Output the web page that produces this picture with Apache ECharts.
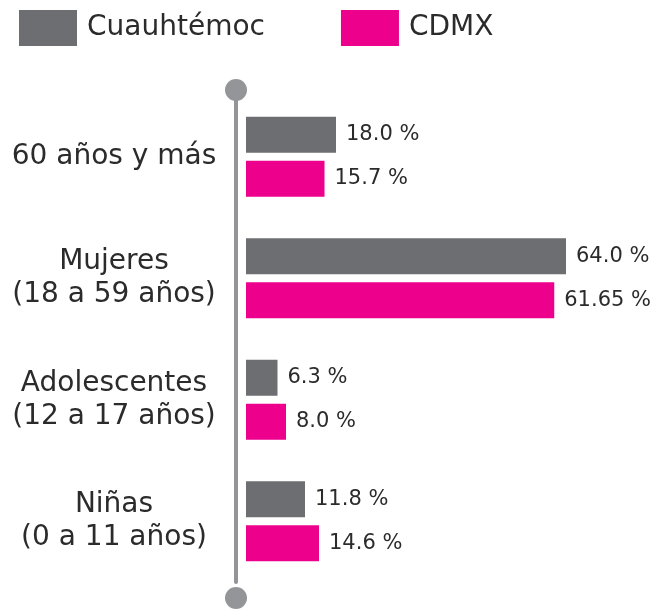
<!DOCTYPE html>
<html>
<head>
<meta charset="utf-8">
<script src="https://cdn.jsdelivr.net/npm/echarts@6/dist/echarts.min.js"></script>
<style>
  html, body { margin: 0; padding: 0; background: #fff; }
  #chart { width: 657px; height: 609px; }
</style>
</head>
<body>
<div id="chart"></div>
<script>
// Datos (de arriba hacia abajo)
const categorias = ['60 años y más', 'Mujeres\n(18 a 59 años)', 'Adolescentes\n(12 a 17 años)', 'Niñas\n(0 a 11 años)'];
const cuauhtemoc = [18.0, 64.0, 6.3, 11.8];
const cdmx = [15.7, 61.65, 8.0, 14.6];
const series = ['Cuauhtémoc', 'CDMX'];

const FONT = 'DejaVu Sans';
const TXT = '#2b2b2b';
const chart = echarts.init(document.getElementById('chart'));

function fmt(p) {
    const v = p.value;
    const d = Math.abs(v * 10 - Math.round(v * 10)) < 1e-9 ? v.toFixed(1) : String(v);
    return d + ' %';
}

const valueLabel = {
    show: true,
    position: 'right',
    distance: 10,
    formatter: fmt,
    color: TXT,
    fontFamily: FONT,
    fontSize: 21
};

chart.setOption({
    animation: false,
    legend: {
        data: series,
        left: 14,
        top: 5,
        itemWidth: 58,
        itemHeight: 36,
        itemGap: 76,
        icon: 'rect',
        textStyle: { fontFamily: FONT, fontSize: 28, color: TXT, padding: [0, 0, 0, 5] }
    },
    grid: { left: 246, top: 96, width: 400, height: 486 },
    xAxis: {
        type: 'value',
        min: 0,
        max: 80,
        show: false
    },
    yAxis: {
        type: 'category',
        data: categorias.slice().reverse(),
        offset: 10,
        axisTick: { show: false },
        axisLine: {
            show: true,
            onZero: false,
            lineStyle: { color: '#939598', width: 4 },
            symbol: ['circle', 'circle'],
            symbolSize: [22, 22],
            symbolOffset: [-16, 6]
        },
        axisLabel: {
            margin: 14,
            formatter: v => v.split('\n').map(s => '{c|' + s + '}').join('\n'),
            rich: {
                c: {
                    width: 216,
                    align: 'center',
                    fontFamily: FONT,
                    fontSize: 28,
                    lineHeight: 33,
                    color: TXT
                }
            }
        }
    },
    series: [
        {
            name: series[0],
            type: 'bar',
            data: cuauhtemoc.slice().reverse(),
            barWidth: 36,
            barGap: '22%',
            itemStyle: { color: '#6d6e71' },
            label: valueLabel
        },
        {
            name: series[1],
            type: 'bar',
            data: cdmx.slice().reverse(),
            barWidth: 36,
            barGap: '22%',
            itemStyle: { color: '#ec008c' },
            label: valueLabel
        }
    ]
});
</script>
</body>
</html>
